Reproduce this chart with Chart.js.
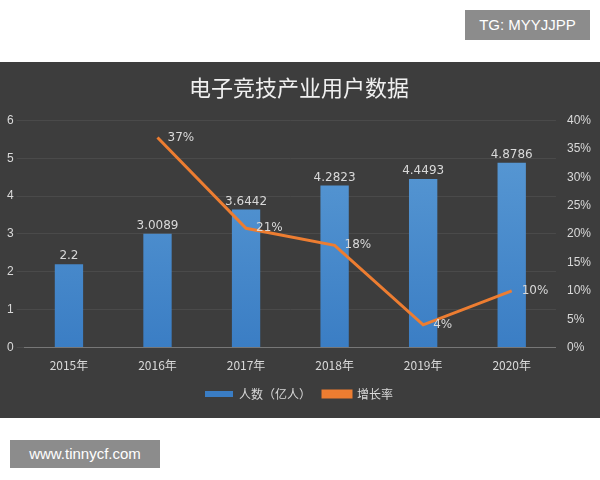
<!DOCTYPE html><html><head><meta charset="utf-8">
<script src="https://cdn.jsdelivr.net/npm/chart.js@4"></script>
<style>
body{margin:0;background:#fff;width:600px;height:480px;position:relative;font-family:"Noto Sans CJK SC","Noto Sans",sans-serif;overflow:hidden}
#panel{position:absolute;left:0;top:62px;width:600px;height:356px;background:#3d3d3d}
#wm1{position:absolute;left:465px;top:10px;width:125px;height:30px;background:#8c8c8c;color:#fff;font:15px "Liberation Sans",sans-serif;line-height:30px;text-align:center}
#wm2{position:absolute;left:10px;top:440px;width:150px;height:28px;background:#8c8c8c;color:#fff;font:15px "Liberation Sans",sans-serif;line-height:28px;text-align:center}
</style></head><body>
<div id="wm1">TG: MYYJJPP</div>
<div id="panel"><canvas id="c" width="600" height="356"></canvas></div>
<div id="wm2">www.tinnycf.com</div>
<script>
const years=["2015年","2016年","2017年","2018年","2019年","2020年"];
const users=[2.2,3.0089,3.6442,4.2823,4.4493,4.8786];
const userLabels=["2.2","3.0089","3.6442","4.2823","4.4493","4.8786"];
const growth=[null,37,21,18,4,10];
const txt="#d9d9d9";
const labelPlugin={id:"lbl",afterDatasetsDraw(ch){const c=ch.ctx;c.save();c.fillStyle=txt;c.font="12px 'DejaVu Sans',sans-serif";
ch.getDatasetMeta(0).data.forEach((b,i)=>{c.textAlign="center";c.fillText(userLabels[i],b.x,b.y-8);});
ch.getDatasetMeta(1).data.forEach((p,i)=>{if(growth[i]==null)return;c.textAlign="left";c.textBaseline="middle";c.fillText(growth[i]+"%",p.x+10,p.y);});
c.restore();}};
const ctx=document.getElementById("c").getContext("2d");
const g=ctx.createLinearGradient(0,60,0,290);g.addColorStop(0,"#5b9bd5");g.addColorStop(1,"#3a7dc4");
new Chart(ctx,{type:"bar",data:{labels:years,datasets:[
{label:"人数（亿人）",data:users,backgroundColor:g,yAxisID:"y",barPercentage:0.64,categoryPercentage:0.5,order:2},
{type:"line",label:"增长率",data:growth,borderColor:"#ed7d31",backgroundColor:"#ed7d31",borderWidth:3,pointRadius:0,yAxisID:"y1",order:1,spanGaps:false}]},
options:{responsive:false,animation:false,layout:{padding:{left:4,right:6,bottom:8}},
plugins:{title:{display:true,text:"电子竞技产业用户数据",color:"#f0f0f0",font:{size:22,weight:"normal",family:"'Noto Sans CJK SC'"},padding:{top:12,bottom:20}},
legend:{position:"bottom",labels:{color:txt,font:{size:12,family:"'Noto Sans CJK SC'"},boxWidth:28,boxHeight:6,padding:12,sort:(a,b)=>a.datasetIndex-b.datasetIndex}},tooltip:{enabled:false}},
scales:{x:{grid:{display:false},border:{color:"#777"},ticks:{color:txt,font:{size:12,family:"'Noto Sans CJK SC'"}}},
y:{min:0,max:6,ticks:{stepSize:1,color:txt,font:{size:12}},grid:{color:"#4a4a4a"},border:{display:false}},
y1:{position:"right",min:0,max:40,ticks:{stepSize:5,color:txt,font:{size:12},callback:v=>v+"%"},grid:{display:false},border:{display:false}}}},
plugins:[labelPlugin]});
</script></body></html>
